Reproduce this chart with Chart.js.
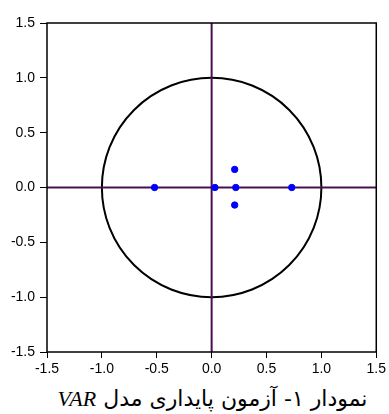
<!DOCTYPE html>
<html>
<head>
<meta charset="utf-8">
<script src="https://cdn.jsdelivr.net/npm/chart.js@4"></script>
<style>
  body { margin: 0; background: #fff; }
  #wrap { width: 389px; height: 380px; }
  #caption {
    width: 389px; text-align: center; direction: rtl;
    font-family: "DejaVu Sans", sans-serif; font-size: 22px; color: #000;
    margin-top: 6px; padding-left: 36px; box-sizing: border-box; line-height: 26px;
  }
  #caption i { font-family: "Liberation Serif", serif; font-size: 22px; }
</style>
</head>
<body>
<div id="wrap"><canvas id="chart" width="389" height="380"></canvas></div>
<div id="caption">نمودار ۱- آزمون پایداری مدل <i>VAR</i></div>
<script>
// inverse roots of the AR characteristic polynomial
const rootsReal = [-0.52, 0.03, 0.22, 0.73, 0.21, 0.21];
const rootsImag = [0, 0, 0, 0, 0.165, -0.16];
const axisMin = -1.5;
const axisMax = 1.5;
const tickStep = 0.5;

const points = rootsReal.map((x, i) => ({ x: x, y: rootsImag[i] }));

// frame, unit circle and the zero cross, drawn from the scales
const unitCircle = {
    id: 'unitCircle',
    beforeDatasetsDraw(chart) {
        const { ctx, chartArea, scales } = chart;
        const xs = scales.x, ys = scales.y;
        ctx.save();
        const cx = xs.getPixelForValue(0), cy = ys.getPixelForValue(0);
        const rx = xs.getPixelForValue(1) - cx;
        const ry = cy - ys.getPixelForValue(1);
        ctx.strokeStyle = '#000';
        ctx.lineWidth = 2;
        ctx.beginPath();
        ctx.ellipse(cx, cy, rx, ry, 0, 0, Math.PI * 2);
        ctx.stroke();

        ctx.strokeStyle = '#4a0f4f';
        ctx.lineWidth = 2;
        ctx.beginPath();
        ctx.moveTo(chartArea.left, cy);
        ctx.lineTo(chartArea.right, cy);
        ctx.moveTo(cx, chartArea.top);
        ctx.lineTo(cx, chartArea.bottom);
        ctx.stroke();

        ctx.strokeStyle = '#000';
        ctx.lineWidth = 1.5;
        ctx.strokeRect(chartArea.left, chartArea.top,
            chartArea.right - chartArea.left, chartArea.bottom - chartArea.top);
        ctx.restore();
    }
};

const tickFont = { family: 'Liberation Sans, Arial, sans-serif', size: 14 };

new Chart(document.getElementById('chart'), {
    type: 'scatter',
    data: {
        datasets: [{
            data: points,
            backgroundColor: '#0000ff',
            borderColor: '#0000ff',
            pointRadius: 3.2,
            pointHoverRadius: 3.2
        }]
    },
    options: {
        responsive: false,
        animation: false,
        layout: { padding: { top: 23, right: 11, left: 0, bottom: 0 } },
        plugins: { legend: { display: false }, tooltip: { enabled: false } },
        scales: {
            x: {
                min: axisMin, max: axisMax,
                ticks: {
                    stepSize: tickStep, color: '#000', font: tickFont, padding: 3,
                    maxRotation: 0,
                    callback: v => v.toFixed(1)
                },
                grid: { drawOnChartArea: false, tickLength: 6, tickColor: '#000', tickWidth: 1 },
                border: { display: false },
                afterFit(scale) { scale.height = 28; }
            },
            y: {
                min: axisMin, max: axisMax,
                ticks: {
                    stepSize: tickStep, color: '#000', font: tickFont, padding: 5,
                    callback: v => v.toFixed(1)
                },
                grid: { drawOnChartArea: false, tickLength: 7, tickColor: '#000', tickWidth: 1 },
                border: { display: false },
                afterFit(scale) { scale.width = 47; }
            }
        }
    },
    plugins: [unitCircle]
});
</script>
</body>
</html>
